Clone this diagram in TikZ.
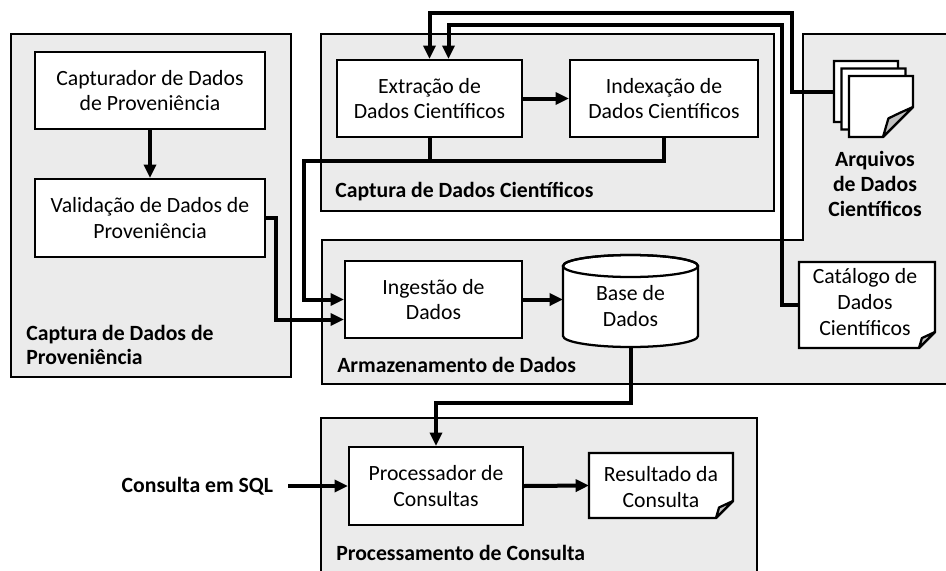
\documentclass[tikz,border=0pt]{standalone}
\usepackage{fontspec}
\setmainfont{Carlito}
\usetikzlibrary{arrows.meta,calc,fit}
\definecolor{contgray}{HTML}{EBEBEB}
\definecolor{foldgray}{HTML}{C0C0C0}
\tikzset{
 cont/.style={draw=black, line width=1.6pt, fill=contgray},
 boxline/.style={draw=black, line width=1.7pt},
 box/.style={boxline, fill=white, inner sep=0pt, align=center, font=\fontsize{16.3pt}{19.3pt}\selectfont},
 sz/.style 2 args={minimum width=#1*0.75pt, minimum height=#2*0.75pt},
 ghost/.style={inner sep=0pt, outer sep=0pt},
 txt/.style={align=center, font=\fontsize{16.3pt}{19.3pt}\selectfont, inner sep=0pt},
 lbl/.style={align=left, font=\fontsize{16.3pt}{18.5pt}\selectfont\bfseries, inner sep=0pt},
 conn/.style={line width=3pt, -{Triangle[length=10pt,width=9pt]}},
 wire/.style={line width=3pt}
}
\newcommand\docshape[2]{%
  \draw[boxline,fill=white] (#1.north west) -- (#1.north east) -- ($(#1.south east)+(0,-#2)$) -- ($(#1.south east)+(-#2,0)$) -- (#1.south west) -- cycle;
  \draw[boxline,fill=foldgray,line join=round] ($(#1.south east)+(0,-#2)$) .. controls ($(#1.south east)+(-0.45*#2,-0.8*#2)$) .. ($(#1.south east)+(-0.82*#2,-0.62*#2)$) -- ($(#1.south east)+(-#2,0)$) -- cycle;
}
\begin{document}
\begin{tikzpicture}[x=0.75pt,y=-0.75pt]
\clip (0,0) rectangle (946,571);
\fill[white] (0,0) rectangle (946,571);
% containers
\draw[cont] (11,34) rectangle (291,377);
\draw[cont] (321,34) rectangle (774,211);
\draw[cont] (322,240) -- (803,240) -- (803,34) -- (960,34) -- (960,384) -- (322,384) -- cycle;
\draw[cont] (321,418) rectangle (757,600);
% container labels
\node[lbl, anchor=west] (lprov) at (26,345) {Captura de Dados de\\Proveniência};
\node[lbl, anchor=west] (lcient) at (335,192) {Captura de Dados Científicos};
\node[lbl, anchor=west] (larm) at (337,365) {Armazenamento de Dados};
\node[lbl, anchor=west] (lproc) at (336,553) {Processamento de Consulta};
% boxes
\node[box, sz={230}{77}] (cap) at (150,90.5) {Capturador de Dados\\de Proveniência};
\node[box, sz={230}{78}] (val) at (150,218) {Validação de Dados de\\Proveniência};
\node[box, sz={185}{77}] (ext) at (429.5,98.5) {Extração de\\Dados Científicos};
\node[box, sz={188}{77}] (idx) at (664,98.5) {Indexação de\\Dados Científicos};
\node[box, sz={177}{77}] (ing) at (433.5,299.5) {Ingestão de\\Dados};
\node[box, sz={174}{78}] (proc) at (436,486) {Processador de\\Consultas};
% database cylinder
\node[ghost, fit={(563,255) (698,347)}] (base) {};
\draw[boxline, fill=white] (563,266) -- (563,336) arc[start angle=180, end angle=360, x radius=50.625pt, y radius=8.25pt] -- (698,266) arc[start angle=0, end angle=180, x radius=50.625pt, y radius=8.25pt] -- cycle;
\draw[boxline] (630.5,266) ellipse [x radius=50.625pt, y radius=8.25pt];
\node[txt] (basetxt) at (630.5,306) {Base de\\Dados};
% documents
\node[ghost, fit={(589,453) (733,518)}] (res) {};
\docshape{res}{17}
\node[txt] (restxt) at (661,487) {Resultado da\\Consulta};
\node[ghost, fit={(799,262) (935,348)}] (cat) {};
\docshape{cat}{16}
\node[txt] (cattxt) at (865,302) {Catálogo de\\Dados\\Científicos};
\node[ghost, fit={(834,61) (898,122)}] (arq1) {};
\docshape{arq1}{30}
\node[ghost, fit={(841.5,68.5) (905.5,129.5)}] (arq2) {};
\docshape{arq2}{30}
\node[ghost, fit={(849,76) (913,137)}] (arq3) {};
\docshape{arq3}{30}
\node[lbl, align=center] (larq) at (875,184) {Arquivos\\de Dados\\Científicos};
\node[lbl, anchor=east, inner xsep=11pt] (sql) at (288,486) {Consulta em SQL};
% connectors
\draw[conn] (cap.south) -- (val.north);
\draw[conn] (ext.east) -- (idx.west);
\coordinate (j1) at (304,161);
\draw[conn] (idx.south) |- (j1) |- (ing.west);
\draw[wire] (ext.south) -- (ext.south |- j1);
\draw[conn] (val.east) -| ($(ing.west)+(-68,20)$) -- ($(ing.west)+(0,20)$);
\draw[conn] (ing.east) -- (base.west |- ing.east);
\coordinate (t1) at (792,13);
\coordinate (t2) at (782,25);
\draw[conn] (arq1.west) -| (t1) -| (ext.north);
\draw[conn] (cat.west) -| (t2) -| ($(ext.north)+(19,0)$);
\coordinate (j2) at (436,403);
\draw[conn] (base.south) |- (j2) -- (proc.north);
\draw[conn] (sql.east) -- (proc.west);
\draw[conn] (proc.east) -- (res.west);
\end{tikzpicture}
\end{document}
